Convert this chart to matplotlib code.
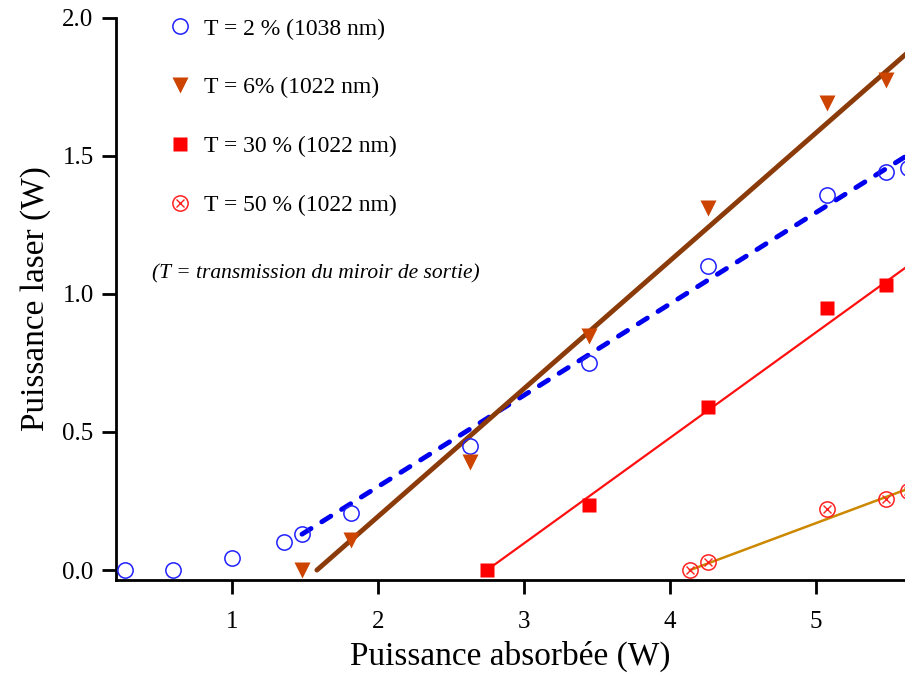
import numpy as np
import matplotlib
matplotlib.use("Agg")
import matplotlib.pyplot as plt
from matplotlib.legend_handler import HandlerTuple

plt.rcParams['font.family'] = ['Liberation Serif', 'DejaVu Serif']

# T = 2 % (1038 nm)
x2 = [0.267, 0.596, 1.0, 1.356, 1.479, 1.815, 2.630, 3.445, 4.260, 5.075, 5.479, 5.63]
y2 = [0.0, 0.0, 0.043, 0.101, 0.130, 0.207, 0.449, 0.750, 1.101, 1.359, 1.442, 1.457]
fit2_x = [1.48, 5.7]
fit2_y = [0.130, 1.526]

# T = 6 % (1022 nm)
x6 = [1.479, 1.815, 2.630, 3.445, 4.260, 5.075, 5.479]
y6 = [0.0, 0.109, 0.391, 0.848, 1.312, 1.692, 1.775]
fit6_x = [1.582, 5.7]
fit6_y = [0.0, 1.907]

# T = 30 % (1022 nm)
x30 = [2.747, 3.445, 4.260, 5.075, 5.479]
y30 = [0.0, 0.236, 0.591, 0.949, 1.033]
fit30_x = [2.747, 5.7]
fit30_y = [0.0, 1.128]

# T = 50 % (1022 nm)
x50 = [4.137, 4.260, 5.075, 5.479, 5.63]
y50 = [0.0, 0.029, 0.221, 0.257, 0.285]
fit50_x = [4.137, 5.7]
fit50_y = [0.0, 0.308]

labels = ['T = 2 % (1038 nm)', 'T = 6% (1022 nm)', 'T = 30 % (1022 nm)', 'T = 50 % (1022 nm)']

fig = plt.figure(figsize=(9.05, 6.8), dpi=100)
ax = fig.add_axes([0.128, 0.147, 0.872, 0.827])

ax.plot(fit2_x, fit2_y, color='#0000ee', lw=3.5, ls=(0, (2.2, 2.6)), dash_capstyle='round', zorder=2)
ax.plot(fit6_x, fit6_y, color='#8b3a0a', lw=3.5, solid_capstyle='round', zorder=2)
ax.plot(fit30_x, fit30_y, color='#ff1010', lw=1.6, zorder=2)
ax.plot(fit50_x, fit50_y, color='#cc8800', lw=1.8, zorder=2)

h2, = ax.plot(x2, y2, 'o', ms=11, mfc='none', mec='#2020ff', mew=1.1, zorder=3)
h6, = ax.plot(x6, y6, 'v', ms=12, color='#cc4400', mec='none', zorder=3)
h30, = ax.plot(x30, y30, 's', ms=10, color='#ff0000', mec='none', zorder=3)
h50a, = ax.plot(x50, y50, 'o', ms=11, mfc='none', mec='#ff2020', mew=1.1, zorder=3)
h50b, = ax.plot(x50, y50, 'x', ms=5.5, color='#ff2020', mew=1.0, zorder=3)

leg = ax.legend([h2, h6, h30, (h50a, h50b)], labels,
                handler_map={tuple: HandlerTuple(ndivide=1, pad=0)},
                loc='upper left', bbox_to_anchor=(0.040, 1.037), frameon=False,
                fontsize=17, labelspacing=1.58, handlelength=1.0, handletextpad=0.5,
                numpoints=1)

ax.text(0.046, 0.545, '(T = transmission du miroir de sortie)', transform=ax.transAxes,
        fontsize=15.5, style='italic', ha='left', va='center')

ax.set_xlim(0.205, 5.61)
ax.set_ylim(-0.036, 2.0)
ax.set_xticks([1, 2, 3, 4, 5])
ax.set_yticks([0.0, 0.5, 1.0, 1.5, 2.0])
ax.set_yticklabels(['0.0', '0.5', '1.0', '1.5', '2.0'])

for s in ['top', 'right']:
    ax.spines[s].set_visible(False)
for s in ['left', 'bottom']:
    ax.spines[s].set_linewidth(2)
ax.tick_params(axis='both', direction='out', length=10, width=2, labelsize=18)
ax.tick_params(axis='x', pad=12)
ax.tick_params(axis='y', pad=6)

ax.set_xlabel('Puissance absorbée (W)', fontsize=24, labelpad=6)
ax.set_ylabel('Puissance laser (W)', fontsize=24, labelpad=8)

fig.savefig('out.png', dpi=100)
